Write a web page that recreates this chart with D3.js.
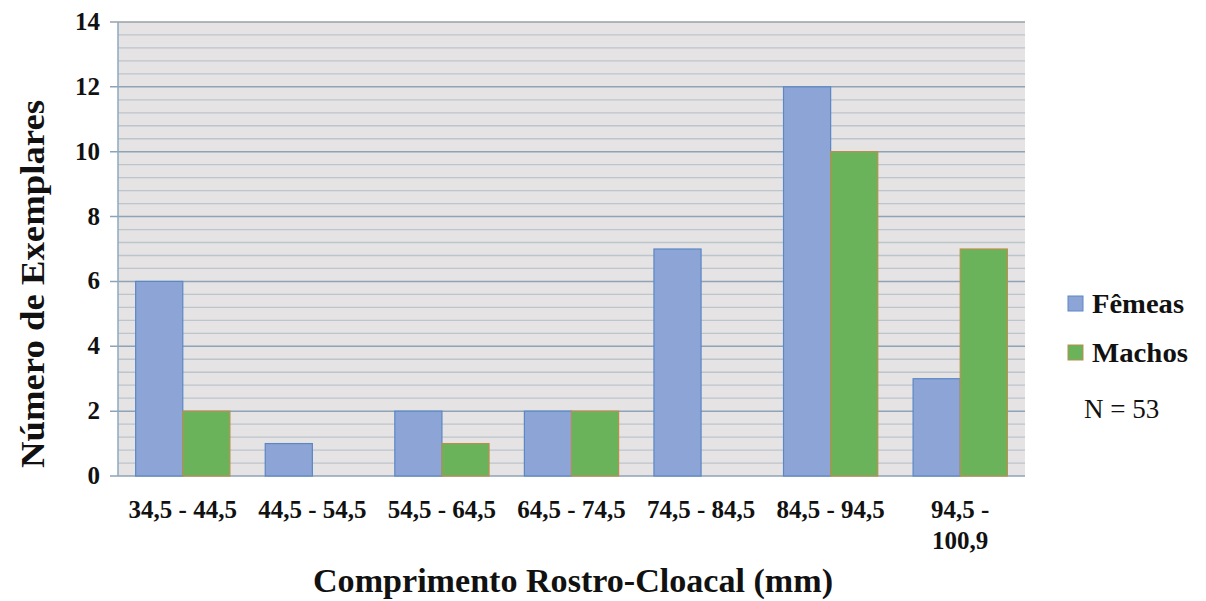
<!DOCTYPE html>
<html><head><meta charset="utf-8">
<script src="https://cdn.jsdelivr.net/npm/d3@7/dist/d3.min.js"></script>
<style>body{margin:0;background:#fff}svg{display:block}text{font-family:"Liberation Serif","Times New Roman",serif;font-weight:bold;fill:#111}</style>
</head><body><svg id="c" width="1206" height="601"></svg>
<script>
const categories = ["34,5 - 44,5","44,5 - 54,5","54,5 - 64,5","64,5 - 74,5","74,5 - 84,5","84,5 - 94,5","94,5 -\n100,9"];
const femeas = [6,1,2,2,7,12,3];
const machos = [2,0,1,2,0,10,7];
const seriesNames = ["Fêmeas","Machos"];
const yTicks = [0,2,4,6,8,10,12,14];

const svg = d3.select("#c");
const L=118,R=1025,T=22,B=476;
const x = d3.scaleBand().domain(d3.range(categories.length)).range([L,R]).paddingInner(0).paddingOuter(0);
const y = d3.scaleLinear().domain([0,14]).range([B,T]);
const sub = d3.scaleBand().domain([0,1]).range([0,x.bandwidth()]).paddingInner(0).paddingOuter(0.375);

svg.append("rect").attr("x",L).attr("y",T).attr("width",R-L).attr("height",B-T).attr("fill","#e5e3e3");
const minor = d3.range(0,14.001,0.4).filter(v=>Math.abs(v/2-Math.round(v/2))>1e-6);
svg.append("g").selectAll("line").data(minor).join("line")
  .attr("x1",L).attr("x2",R).attr("y1",d=>y(d)).attr("y2",d=>y(d)).attr("stroke","#bcc4cc").attr("stroke-width",1.3);
svg.append("g").selectAll("line").data(yTicks).join("line")
  .attr("x1",L-8).attr("x2",R).attr("y1",d=>y(d)).attr("y2",d=>y(d)).attr("stroke",d=>d===14?"#9aa0a6":"#8ea3b6").attr("stroke-width",1.5);
svg.append("line").attr("x1",L).attr("x2",L).attr("y1",T).attr("y2",B).attr("stroke","#8ea8c0").attr("stroke-width",1.5);

const data = [femeas,machos];
const fills = ["#8da5d6","#6bb35b"], strokes=["#5b87c4","#b8904e"];
data.forEach((vals,si)=>{
  const rows = vals.map((v,i)=>({v,i})).filter(d=>d.v>0);
  svg.append("g").selectAll("rect").data(rows).join("rect")
    .attr("x",d=>x(d.i)+sub(si)).attr("width",sub.bandwidth())
    .attr("y",d=>y(d.v)).attr("height",d=>y(0)-y(d.v))
    .attr("fill",fills[si]).attr("stroke",strokes[si]).attr("stroke-width",1.2);
});

svg.append("g").selectAll("text").data(yTicks).join("text")
  .attr("x",100).attr("y",d=>y(d)+8).attr("text-anchor","end").attr("font-size",25).text(d=>d);
categories.forEach((c,i)=>{
  const lines=c.split("\n");
  const cx = x(i)+x.bandwidth()/2;
  const t=svg.append("text").attr("x",cx).attr("y",518).attr("text-anchor","middle").attr("font-size",25);
  lines.forEach((ln,k)=>t.append("tspan").attr("x",cx).attr("dy",k?31:0).text(ln));
});
svg.append("text").attr("x",573).attr("y",592).attr("text-anchor","middle").attr("font-size",33).attr("textLength",520).attr("lengthAdjust","spacingAndGlyphs").text("Comprimento Rostro-Cloacal (mm)");
svg.append("text").attr("transform","translate(44,284) rotate(-90)").attr("text-anchor","middle").attr("font-size",34).attr("textLength",368).attr("lengthAdjust","spacingAndGlyphs").text("Número de Exemplares");

seriesNames.forEach((n,i)=>{
  const yy = 304 + i*49;
  svg.append("rect").attr("x",1068).attr("y",yy-8).attr("width",15).attr("height",15).attr("fill",fills[i]).attr("stroke",strokes[i]);
  svg.append("text").attr("x",1092).attr("y",yy+9).attr("font-size",28).attr("textLength",n==="Fêmeas"?92:96).attr("lengthAdjust","spacingAndGlyphs").text(n);
});
svg.append("text").attr("x",1084).attr("y",418).attr("font-size",27).style("font-weight","normal").text("N = 53");
</script></body></html>
